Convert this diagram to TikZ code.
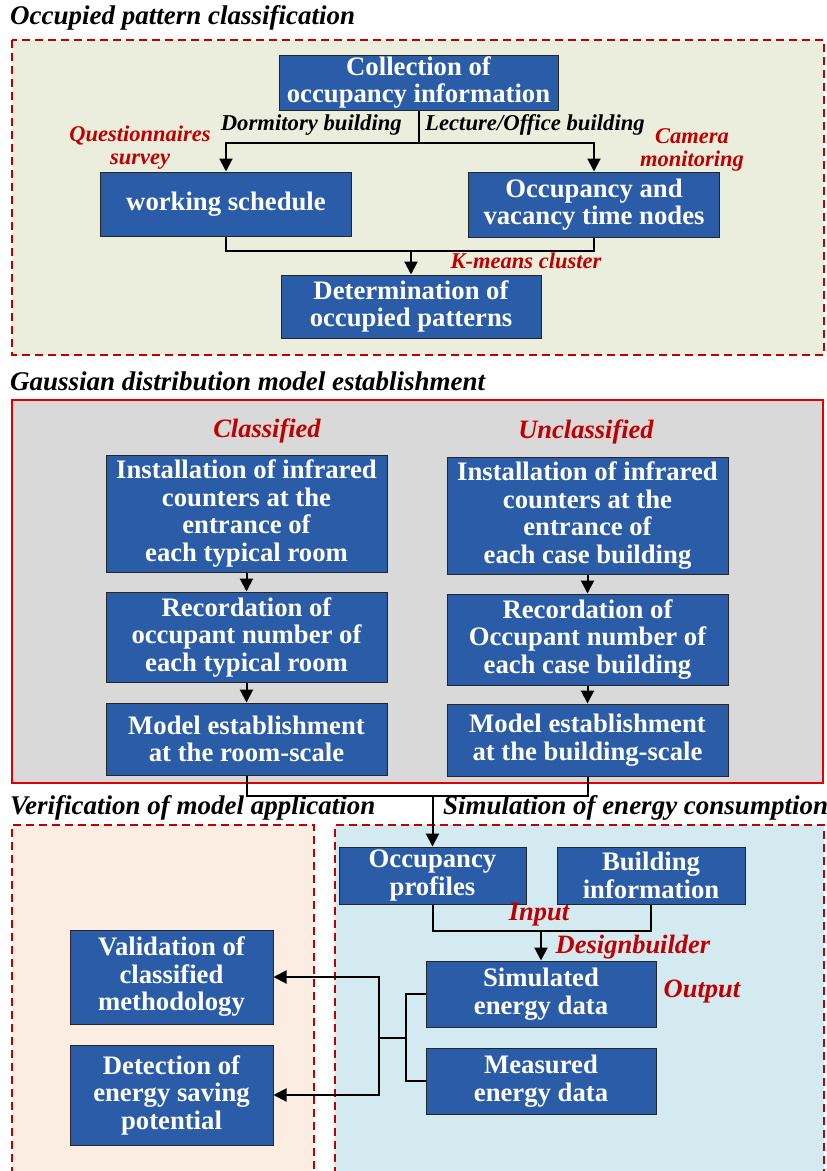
\documentclass[tikz,border=0pt]{standalone}
\usepackage{fontspec}
\setmainfont{Liberation Serif}
\usetikzlibrary{arrows.meta,calc}
\definecolor{boxblue}{HTML}{2A5CA8}
\definecolor{bggreen}{HTML}{EBEEDD}
\definecolor{bggray}{HTML}{D9D9D9}
\definecolor{bgpeach}{HTML}{FCEDE2}
\definecolor{bgblue}{HTML}{D3EAF0}
\definecolor{dred}{HTML}{C00000}
\definecolor{sred}{HTML}{E00000}
\tikzset{
  bx/.style={draw=black!85, line width=1pt, fill=boxblue, text=white, align=center, inner sep=0pt,
    font=\bfseries\fontsize{26.7}{27.5}\selectfont},
  ttl/.style={anchor=west, inner sep=0pt, font=\bfseries\itshape\fontsize{27}{28}\selectfont},
  lbl/.style={inner sep=0pt, font=\bfseries\itshape\fontsize{22.7}{24}\selectfont},
  rlbl/.style={inner sep=0pt, text=dred, text height=14pt, text depth=4pt, font=\bfseries\itshape\fontsize{22.5}{24}\selectfont},
  rlblb/.style={inner sep=0pt, text=dred, font=\bfseries\itshape\fontsize{26.5}{27}\selectfont},
  ln/.style={line width=2pt, draw=black},
  arr/.style={ln, -{Triangle[width=13pt,length=13pt]}},
  dsh/.style={draw=dred, line width=2pt, dash pattern=on 8pt off 5pt},
}
\begin{document}
\begin{tikzpicture}[x=1pt,y=-1pt]
\useasboundingbox (0,0) rectangle (827,1171);
\fill[white] (0,0) rectangle (827,1171);
% ---------- section 1 ----------
\node[ttl] (t1) at (10,18) {Occupied pattern classification};
\fill[bggreen] (12,40) rectangle (824,355);
\draw[dsh] (12,40) rectangle (824,355);
\node[bx, minimum width=279pt, minimum height=55pt] (coll) at (418.5,82.5) {Collection of\\occupancy information};
\node[bx, minimum width=251pt, minimum height=64pt] (work) at (226,204) {working schedule};
\node[bx, minimum width=251pt, minimum height=65pt] (occ) at (594,204.5) {Occupancy and\\vacancy time nodes};
\node[bx, minimum width=260pt, minimum height=63pt] (det) at (411,306.5) {Determination of\\occupied patterns};
\draw[ln] (coll.south) -- ++(0,32) coordinate (j1);
\draw[arr] (j1) -| (work.north);
\draw[arr] (j1) -| (occ.north);
\draw[ln] (work.south) -- ++(0,14) coordinate (j2) -| (occ.south);
\draw[arr] (det.north |- j2) -- (det.north);
\node[lbl, anchor=east] (ldorm) at (402,125) {Dormitory building};
\node[lbl, anchor=west] (llect) at (425,125) {Lecture/Office building};
\node[rlbl] (lq1) at (140,136) {Questionnaires};
\node[rlbl] (lq2) at (140,159) {survey};
\node[rlbl] (lc1) at (692,138) {Camera};
\node[rlbl] (lc2) at (692,161) {monitoring};
\node[rlbl] (lkm) at (526,263) {K-means cluster};
% ---------- section 2 ----------
\node[ttl] (t2) at (10,381) {Gaussian distribution model establishment};
\fill[bggray] (12,400) rectangle (823,783);
\draw[sred, line width=2pt] (12,400) rectangle (823,783);
\node[rlblb] (lcl) at (267,431) {Classified};
\node[rlblb] (lun) at (586,432) {Unclassified};
\node[bx, minimum width=281pt, minimum height=117pt] (inst1) at (246.5,513.5) {Installation of infrared\\counters at the\\entrance of\\each typical room};
\node[bx, minimum width=281pt, minimum height=90pt] (rec1) at (246.5,637) {Recordation of\\occupant number of\\each typical room};
\node[bx, minimum width=281pt, minimum height=72pt] (mod1) at (246.5,739) {Model establishment\\at the room-scale};
\node[bx, minimum width=281pt, minimum height=117pt] (inst2) at (587.5,515.5) {Installation of infrared\\counters at the\\entrance of\\each case building};
\node[bx, minimum width=281pt, minimum height=91pt] (rec2) at (587.5,639.5) {Recordation of\\Occupant number of\\each case building};
\node[bx, minimum width=281pt, minimum height=72pt] (mod2) at (587.5,740) {Model establishment\\at the building-scale};
\draw[arr] (inst1) -- (rec1);
\draw[arr] (rec1) -- (mod1);
\draw[arr] (inst2) -- (rec2);
\draw[arr] (rec2) -- (mod2);
% ---------- section 3 ----------
\fill[bgpeach] (12,825) rectangle (314,1171);
\fill[bgblue] (335,825) rectangle (824,1171);
\draw[dsh] (12,1175) -- (12,825) -- (314,825) -- (314,1175);
\draw[dsh] (335,1175) -- (335,825) -- (824,825) -- (824,1175);
\node[ttl] (t3) at (10,808) {Verification of model application};
\node[ttl] (t4) at (443,808) {Simulation of energy consumption};
\node[bx, minimum width=187pt, minimum height=57pt] (op) at (432.5,875.5) {Occupancy\\profiles};
\node[bx, minimum width=188pt, minimum height=57pt] (bi) at (651,875.5) {Building\\information};
\node[bx, minimum width=230pt, minimum height=66pt] (sim) at (541,994) {Simulated\\energy data};
\node[bx, minimum width=230pt, minimum height=66pt] (meas) at (541,1081) {Measured\\energy data};
\node[bx, minimum width=203pt, minimum height=94pt] (val) at (171.5,977) {Validation of\\classified\\methodology};
\node[bx, minimum width=203pt, minimum height=100pt] (detn) at (171.5,1095) {Detection of\\energy saving\\potential};
\draw[ln] (mod1.south) -- ++(0,20) coordinate (j3) -| (mod2.south);
\draw[arr] (op.north |- j3) -- (op.north);
\draw[ln] (op.south) -- ++(0,26) coordinate (j4) -| (bi.south);
\draw[arr] (sim.north |- j4) -- (sim.north);
\draw[ln] (sim.west) -- ++(-20,0) coordinate (j5) |- (meas.west);
\coordinate (j6) at ($(j5)!0.5!(j5 |- meas.west)$);
\draw[ln] (j6) -- ++(-27,0) coordinate (j7);
\draw[arr] (j7) |- (val.east);
\draw[arr] (j7) |- (detn.east);
\node[rlblb] (lin) at (539,915) {Input};
\node[rlblb] (ldb) at (633,947) {Designbuilder};
\node[rlblb] (lout) at (702,992) {Output};
\end{tikzpicture}
\end{document}
